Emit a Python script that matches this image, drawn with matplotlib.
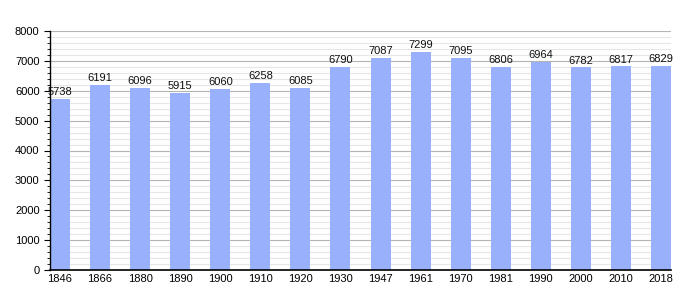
import matplotlib
matplotlib.use("Agg")
import matplotlib.pyplot as plt
import numpy as np
from matplotlib.ticker import MultipleLocator

plt.rcParams['font.family'] = ['Liberation Sans', 'DejaVu Sans']

years = ["1846", "1866", "1880", "1890", "1900", "1910", "1920", "1930", "1947",
         "1961", "1970", "1981", "1990", "2000", "2010", "2018"]
population = [5738, 6191, 6096, 5915, 6060, 6258, 6085, 6790, 7087,
              7299, 7095, 6806, 6964, 6782, 6817, 6829]

fig = plt.figure(figsize=(7, 3), dpi=100)
ax = fig.add_axes([50/700, 30/300, 621/700, 239/300])

x = np.arange(len(years))
ax.set_axisbelow(True)
ax.yaxis.set_major_locator(MultipleLocator(1000))
ax.yaxis.set_minor_locator(MultipleLocator(200))
ax.grid(which="minor", axis="y", color="#e6e6e6", linewidth=0.8)
ax.grid(which="major", axis="y", color="#b4b4b4", linewidth=0.8)
ax.bar(x, population, width=0.5, color="#99b1fd", zorder=2)
for xi, v in zip(x, population):
    ax.text(xi, v + 60, str(v), ha="center", va="bottom", fontsize=8, color="#111111", zorder=3)

ax.set_xlim(-0.25, len(years) - 0.75)
ax.set_ylim(0, 8000)
ax.set_xticks(x)
ax.set_xticklabels(years, fontsize=8)
ax.tick_params(axis="x", length=0, pad=3)
ax.tick_params(axis="y", which="major", length=4, labelsize=8, direction="out")
ax.tick_params(axis="y", which="minor", length=2, direction="out")
for s in ["top", "right"]:
    ax.spines[s].set_visible(False)
ax.spines["left"].set_linewidth(1)
ax.spines["bottom"].set_linewidth(1.2)

fig.savefig("out.png", dpi=100)
